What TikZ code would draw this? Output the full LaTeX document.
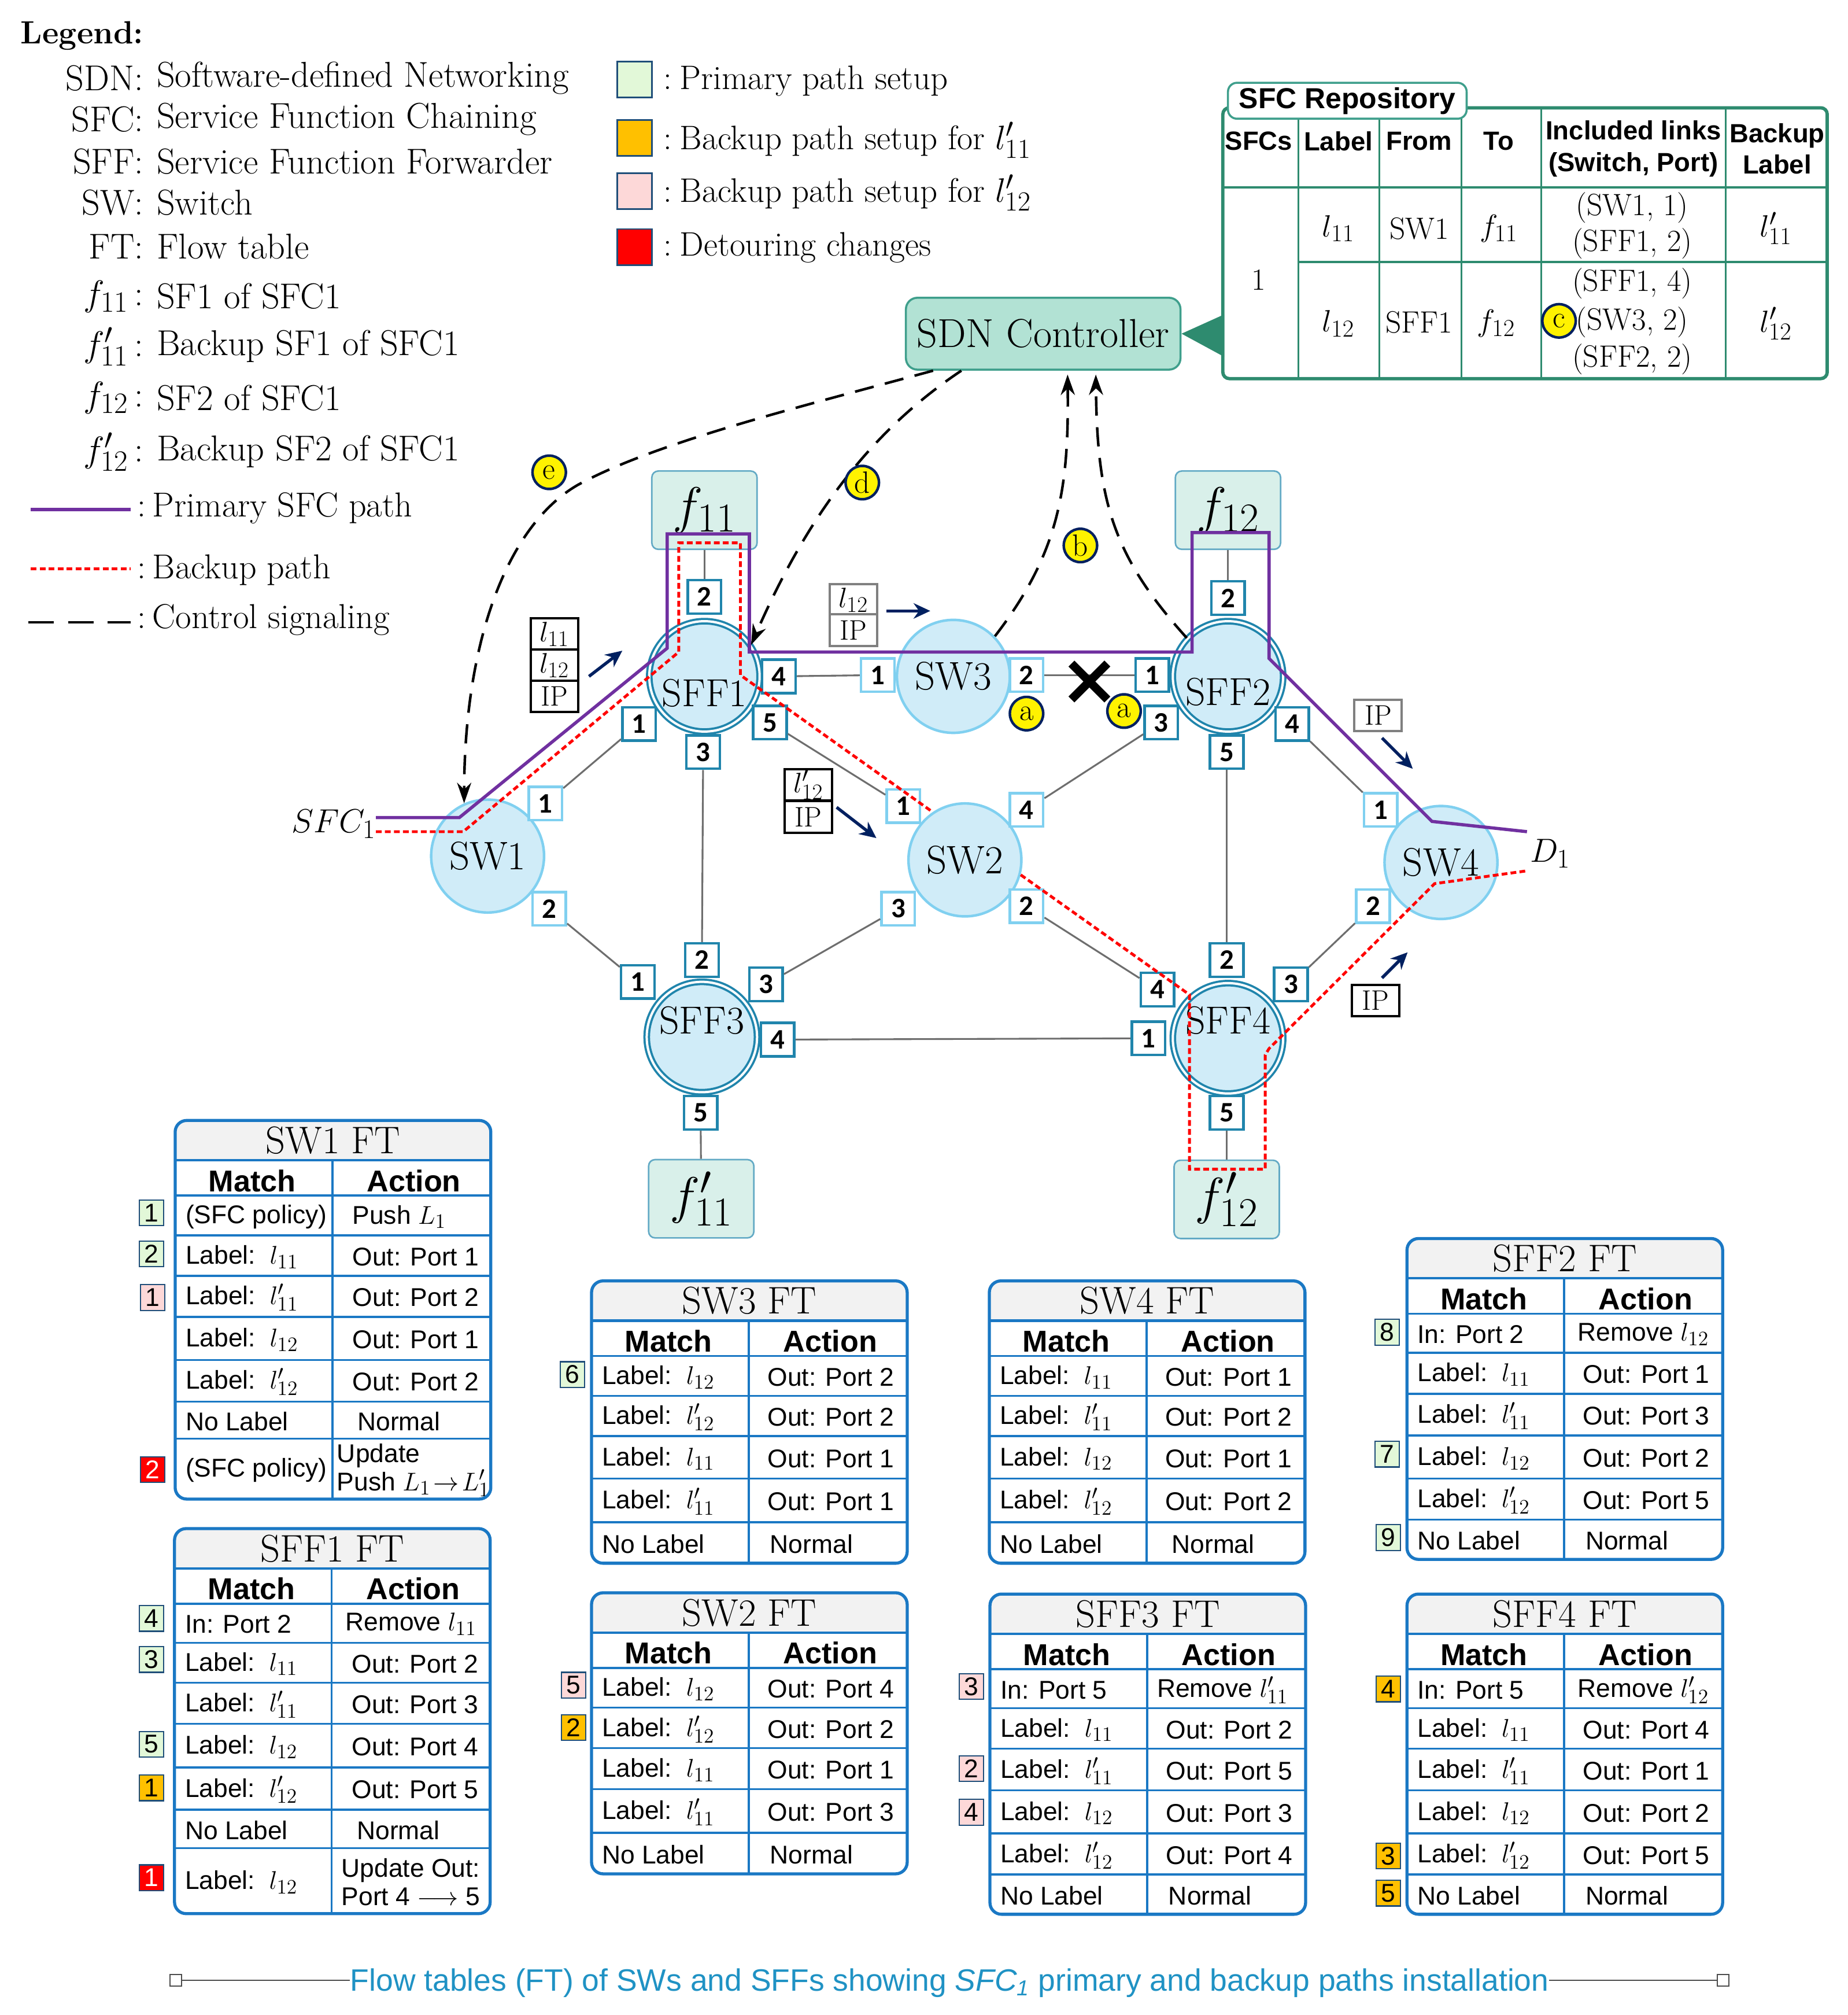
\documentclass[tikz,border=0pt]{standalone}
\usepackage{fix-cm}
\usepackage{fontspec}
\setsansfont{Liberation Sans}
\newfontfamily\portfont{Carlito}
\usetikzlibrary{arrows.meta}
\DeclareMathSizes{20}{20}{16}{12}
\DeclareMathSizes{22}{22}{17.5}{13}
\DeclareMathSizes{24}{24}{19}{14}
\DeclareMathSizes{26}{26}{21}{15}
\DeclareMathSizes{26.5}{26.5}{21.5}{15}
\DeclareMathSizes{28}{28}{23}{16}
\DeclareMathSizes{40}{40}{32}{22}
\newcommand{\fsz}[1]{\fontsize{#1}{#1}\selectfont}
\definecolor{swfill}{HTML}{D0ECF8}
\definecolor{swline}{HTML}{80D0F0}
\definecolor{sffline}{HTML}{2085AC}
\definecolor{funcfill}{HTML}{D9F0EA}
\definecolor{ctrlfill}{HTML}{B2E2D4}
\definecolor{ctrlline}{HTML}{3F9F8C}
\definecolor{repoline}{HTML}{2E8B6F}
\definecolor{linkgray}{HTML}{6E6E6E}
\definecolor{pathpurple}{HTML}{7030A0}
\definecolor{navyarrow}{HTML}{002060}
\definecolor{ftline}{HTML}{1A78C4}
\definecolor{fttitle}{HTML}{F2F2F2}
\definecolor{mkgreen}{HTML}{E2F8D8}
\definecolor{mkorange}{HTML}{FFC000}
\definecolor{mkpink}{HTML}{FDD8D8}
\definecolor{mkred}{HTML}{FF0000}
\definecolor{mkline}{HTML}{1F4E79}
\definecolor{capblue}{HTML}{1F92C4}
\tikzset{
  swnode/.style={circle,fill=swfill,draw=swline,line width=2pt,minimum size=88pt,inner sep=0pt,font=\fsz{31}},
  sffnode/.style={circle,fill=swfill,draw=sffline,double=white,double distance=1.8pt,line width=1.7pt,minimum size=86pt,inner sep=0pt},
  sfftext/.style={font=\fsz{30.5},inner sep=0pt},
  funcbox/.style={rectangle,rounded corners=5pt,fill=funcfill,draw=sffline!70,line width=1.2pt,minimum width=82pt,minimum height=61pt,inner sep=0pt,font=\fsz{40}},
  swport/.style={rectangle,fill=white,draw=swline,line width=2pt,minimum size=26pt,inner sep=0pt,font=\portfont\bfseries\fsz{22}},
  sffport/.style={swport,draw=sffline},
  link/.style={draw=linkgray,line width=1.4pt},
  primarypath/.style={draw=pathpurple,line width=2.5pt},
  backuppath/.style={draw=red,line width=2.2pt,dash pattern=on 4.5pt off 2.5pt},
  control/.style={draw=black,line width=2pt,dash pattern=on 15pt off 9pt},
  controlarrow/.style={control,-{Stealth[length=16pt,width=11pt]}},
  flowarrow/.style={draw=navyarrow,line width=2.4pt,-{Stealth[length=13pt,width=12pt]}},
  letter/.style={circle,fill=yellow,draw=navyarrow,line width=2pt,minimum size=26pt,inner sep=0pt,font=\fsz{24}},
  stackblack/.style={rectangle,fill=white,draw=black,line width=1.8pt,minimum width=37pt,minimum height=24.5pt,inner sep=0pt,font=\fsz{22}},
  stackgray/.style={stackblack,draw=gray},
  legkey/.style={anchor=east,inner sep=0pt,font=\fsz{28}},
  legval/.style={anchor=west,inner sep=0pt,font=\fsz{28}},
  legline/.style={anchor=west,inner sep=0pt,font=\fsz{27}},
  keyval/.style={anchor=west,inner sep=0pt,font=\fsz{26.5}},
  legbox/.style={rectangle,draw=mkline,line width=1.2pt,fill=#1,minimum width=27pt,minimum height=28pt,inner sep=0pt},
  stepbox/.style={rectangle,draw=mkline,line width=1pt,fill=#1,minimum width=19pt,minimum height=20pt,inner sep=0pt,font=\sffamily\fsz{20}},
  repohead/.style={inner sep=0pt,align=center,font=\sffamily\bfseries\fontsize{20.5}{24.5}\selectfont},
  repocell/.style={inner sep=0pt,font=\fsz{24}},
  ftcell/.style={anchor=west,inner sep=0pt,align=left,font=\sffamily\fontsize{20}{22}\selectfont},
  fthead/.style={inner sep=0pt,font=\sffamily\bfseries\fsz{23.5}},
}
% id, title, left, top, height, rows
\newcommand{\flowtable}[6]{%
\begin{scope}[shift={(#3,#4)}]
\begin{scope}
\clip[rounded corners=9pt] (0,0) rectangle (246,#5);
\fill[fttitle] (0,0) rectangle (246,31);
\draw[ftline,line width=2pt] (0,31) -- (246,31);
\draw[ftline,line width=1.6pt] (0,58.5) -- (246,58.5);
\draw[ftline,line width=1.6pt] (122.5,31) -- (122.5,#5);
\foreach \rowt/\rowb/\rowm/\rowx/\rowa [count=\rowi] in {#6} {
  \node[ftcell] (#1m\rowi) at (8,{(\rowt+\rowb)/2+1}) {\rowm};
  \node[ftcell] (#1a\rowi) at (\rowx,{(\rowt+\rowb)/2+1}) {\rowa};
  \draw[ftline,line width=1.6pt] (0,\rowb) -- (246,\rowb);
}
\end{scope}
\draw[ftline,line width=2.4pt,rounded corners=9pt] (0,0) rectangle (246,#5);
\node[inner sep=0pt,font=\fsz{30}] (#1t) at (123,15.5) {#2};
\node[fthead] (#1hm) at (60,47) {Match};
\node[fthead] (#1ha) at (186,47) {Action};
\end{scope}}
\begin{document}
\begin{tikzpicture}[x=1pt,y=-1pt]
\useasboundingbox (0,0) rectangle (1440,1570);
% Legend, left column
\node[anchor=west,inner sep=0pt,font=\bfseries\fsz{25}] (legtitle) at (16,28) {Legend:};
\foreach \lgk/\lgv/\lgy [count=\lgi] in {SDN:/Software-defined Networking/61,SFC:/Service Function Chaining/93,SFF:/Service Function Forwarder/126,SW:/Switch/158,FT:/Flow table/192,$f_{11}$\,:/SF1 of SFC1/231,$f'_{11}$\,:/Backup SF1 of SFC1/270,$f_{12}$\,:/SF2 of SFC1/310,$f'_{12}$\,:/Backup SF2 of SFC1/352} {
  \node[legkey] (legk\lgi) at (112,\lgy) {\lgk};
  \node[legval] (legv\lgi) at (122,\lgy) {\lgv};
}
\node[legline] (legprimary) at (107,396) {:\hspace{5pt}Primary SFC path};
\node[legline] (legbackup) at (107,444) {:\hspace{5pt}Backup path};
\node[legline] (legcontrol) at (107,483) {:\hspace{5pt}Control signaling};
\coordinate (primarystart) at (24,397);
\coordinate (backupstart) at (24,443);
\coordinate (controlstart) at (22,485);
\draw[primarypath] (primarystart) -- ([xshift=-5pt]legprimary.west |- primarystart);
\draw[backuppath] (backupstart) -- ([xshift=-5pt]legbackup.west |- backupstart);
\draw[control,dash pattern=on 20pt off 11pt] (controlstart) -- ([xshift=-5pt]legcontrol.west |- controlstart);
% Legend, colour keys
\node[legbox=mkgreen] (keya) at (494.5,62) {};
\node[legbox=mkorange] (keyb) at (494.5,107.5) {};
\node[legbox=mkpink] (keyc) at (494.5,149) {};
\node[legbox=mkred] (keyd) at (494.5,192.5) {};
\node[keyval] (keyat) at (517,63) {:\hspace{6pt}Primary path setup};
\node[keyval] (keybt) at (517,109) {:\hspace{6pt}Backup path setup for $l'_{11}$};
\node[keyval] (keyct) at (517,150) {:\hspace{6pt}Backup path setup for $l'_{12}$};
\node[keyval] (keydt) at (517,193) {:\hspace{6pt}Detouring changes};
% SDN controller and repository
\node[rectangle,rounded corners=9pt,fill=ctrlfill,draw=ctrlline,line width=1.6pt,minimum width=214pt,minimum height=56pt,inner sep=0pt,font=\fsz{31.5}] (sdn) at (813,260) {SDN Controller};
\fill[repoline] (sdn.east) -- (954,245) -- (954,278) -- cycle;
\draw[repoline,line width=2.6pt,rounded corners=5pt] (953,84) rectangle (1424,295);
\draw[repoline,line width=1.8pt] (953,146) -- (1424,146);
\draw[repoline,line width=1.8pt] (1012,204) -- (1424,204);
\foreach \colx in {1012,1075,1139,1201,1345} \draw[repoline,line width=1.4pt] (\colx,84) -- (\colx,295);
\node[rectangle,rounded corners=7pt,fill=white,draw=ctrlline,line width=1.6pt,minimum width=186pt,minimum height=28pt,inner sep=0pt,font=\sffamily\bfseries\fsz{22.5}] (repotitle) at (1050,78.5) {SFC Repository};
\foreach \rx/\ry/\rt [count=\ri] in {981/110/SFCs,1043/110/Label,1106/110/From,1168/110/To,1273/116/{Included links\\(Switch, Port)},1385/116/{Backup\\Label}} \node[repohead] (rh\ri) at (\rx,\ry) {\rt};
\foreach \rx/\ry/\rt [count=\ri] in {981/218/1,1043/178/$l_{11}$,1106/178/SW1,1168/178/$f_{11}$,1272/162/{(SW1, 1)},1272/190/{(SFF1, 2)},1384/178/$l'_{11}$,1043/252/$l_{12}$,1106/251/SFF1,1166/252/$f_{12}$,1272/221/{(SFF1, 4)},1272/251/{(SW3, 2)},1272/280/{(SFF2, 2)},1384/252/$l'_{12}$} \node[repocell] (rc\ri) at (\rx,\ry) {\rt};
% Nodes of the network
\node[swnode] (sw1) at (380,667) {SW1};
\node[swnode] (sw2) at (752,670) {SW2};
\node[swnode] (sw3) at (743,527) {SW3};
\node[swnode] (sw4) at (1123,672) {SW4};
\node[sffnode,label={[sfftext,yshift=-13pt]center:SFF1}] (sff1) at (549,527) {};
\node[sffnode,label={[sfftext,yshift=-12pt]center:SFF2}] (sff2) at (957,527) {};
\node[sffnode,label={[sfftext,yshift=13pt]center:SFF3}] (sff3) at (547,808) {};
\node[sffnode,label={[sfftext,yshift=14pt]center:SFF4}] (sff4) at (957,809) {};
\node[funcbox] (f11) at (549,397.5) {\raisebox{5pt}{$f_{11}$}};
\node[funcbox] (f12) at (957,397.5) {\raisebox{5pt}{$f_{12}$}};
\node[funcbox] (fb11) at (546.5,934) {\raisebox{2pt}{$f'_{11}$}};
\node[funcbox] (fb12) at (956,934.5) {\raisebox{2pt}{$f'_{12}$}};
% Ports
\foreach \pn/\px/\py/\pt in {swa1/425/626/1,swa2/428/708/2,swb1/704/628/1,swb2/800/706/2,swb3/700/708/3,swb4/800/631/4,swc1/684/526/1,swc2/800/526/2,swd1/1076/631/1,swd2/1070/706/2}
  \node[swport] (\pn) at (\px,\py) {\pt};
\foreach \pn/\px/\py/\pt in {sfa1/498/564/1,sfa2/549/465/2,sfa3/548/586/3,sfa4/607/527/4,sfa5/600/563/5,sfb1/898/526/1,sfb2/957/466/2,sfb3/905/563/3,sfb4/1007/564/4,sfb5/956/586/5,sfc1/497/765/1,sfc2/547/748/2,sfc3/597/767/3,sfc4/606/810/4,sfc5/546/867/5,sfd1/895/809/1,sfd2/956/748/2,sfd3/1006/767/3,sfd4/902/771/4,sfd5/956/867/5}
  \node[sffport] (\pn) at (\px,\py) {\pt};
% Links
\foreach \la/\lb in {swa1/sfa1,swa2/sfc1,sfa3/sfc2,sfa5/swb1,sfa4/swc1,swc2/sfb1,sfb3/swb4,sfb5/sfd2,sfb4/swd1,swb2/sfd4,swb3/sfc3,sfc4/sfd1,swd2/sfd3,f11/sfa2,f12/sfb2,fb11/sfc5,fb12/sfd5}
  \draw[link] (\la) -- (\lb);
% Link failure
\coordinate (crossc) at (849,531);
\draw[black,line width=6.5pt] ([shift={(-14pt,-14pt)}]crossc) -- ([shift={(14pt,14pt)}]crossc);
\draw[black,line width=6.5pt] ([shift={(-14pt,14pt)}]crossc) -- ([shift={(14pt,-14pt)}]crossc);
% Primary and backup paths
\node[inner sep=0pt,font=\fsz{26}] (sfcin) at (260,642) {$SFC_1$};
\node[inner sep=0pt,font=\fsz{26}] (dst) at (1208,665) {$D_1$};
\coordinate (pstart) at (293,637);
\coordinate (pend) at (1190,648);
\coordinate (bstart) at (293,648);
\coordinate (bend) at (1190,678.5);
\draw[primarypath] (pstart) -- (358,637) -- (520,505) -- (520,416) -- (584,416) -- (584,508) -- (929,508) -- (929,415) -- (989,415) -- (989,513) -- (1116,640) -- (pend);
\draw[backuppath] (bstart) -- (361,648) -- (529,508) -- (529,423) -- (577,423) -- (577,526) -- (sw2.124);
\draw[backuppath] (sw2.-15) -- (927,775) -- (927,911) -- (986,911) -- (986,822) -- (989,817) -- (1118,688.5) -- (bend);
% Control signaling
\draw[controlarrow] ([xshift=22pt]sdn.south west) .. controls (620,318) and (510,345) .. (450,378) .. controls (395,410) and (362,500) .. (sw1.114);
\draw[controlarrow] ([xshift=44pt]sdn.south west) .. controls (680,335) and (630,400) .. (sff1.34);
\draw[controlarrow] (sw3.44) .. controls (826,430) and (833,380) .. ([xshift=19pt,yshift=-3pt]sdn.south);
\draw[controlarrow] (sff2.137) .. controls (867,433) and (855,390) .. ([xshift=41pt,yshift=-3pt]sdn.south);
\node[letter] (mke) at (428,368) {e};
\node[letter] (mkd) at (672,376) {d};
\node[letter] (mkb) at (842,425) {b};
\node[letter] (mkc) at (1215,250) {c};
\node[letter] (mka) at (800,556) {a};
\node[letter] (mkaa) at (876,554) {a};
% Packet labels
\node[stackblack] (pka) at (432,494) {$l_{11}$};
\node[stackblack] (pkb) at (432,518.5) {$l_{12}$};
\node[stackblack] (pkc) at (432,542.5) {IP};
\node[stackgray] (pkd) at (665,467.5) {$l_{12}$};
\node[stackgray] (pke) at (665,491) {IP};
\node[stackblack] (pkf) at (630,611.5) {$l'_{12}$};
\node[stackblack] (pkg) at (630,636.5) {IP};
\node[stackgray] (pkh) at (1074,557.5) {IP};
\node[stackblack] (pki) at (1072,779.5) {IP};
\coordinate (arra) at (459,527);
\coordinate (arrb) at (485,507);
\coordinate (arrc) at (691,476);
\coordinate (arrd) at (725,476);
\coordinate (arre) at (652,629);
\coordinate (arrf) at (683,653);
\coordinate (arrg) at (1077,575);
\coordinate (arrh) at (1101,599);
\coordinate (arri) at (1077,762);
\coordinate (arrj) at (1097,742);
\foreach \aa/\ab in {arra/arrb,arrc/arrd,arre/arrf,arrg/arrh,arri/arrj}
  \draw[flowarrow] (\aa) -- (\ab);
% Flow tables
\flowtable{tsw1}{SW1 FT}{136.5}{873}{295}{58.6/89.6/{(SFC policy)}/138/Push $L_1$,
  89.6/121/Label:\ \ $l_{11}$/138/Out: Port 1,
  121/153/Label:\ \ $l'_{11}$/138/Out: Port 2,
  153/186.6/Label:\ \ $l_{12}$/138/Out: Port 1,
  186.6/219/Label:\ \ $l'_{12}$/138/Out: Port 2,
  219/248/No Label/142/Normal,
  248/295/{(SFC policy)}/126/{Update\\Push $L_1\!\rightarrow\!L'_1$}}
\flowtable{tsf1}{SFF1 FT}{136}{1191}{300}{58/89/In: Port 2/133/Remove $l_{11}$,
  89/120/Label:\ \ $l_{11}$/138/Out: Port 2,
  120/152/Label:\ \ $l'_{11}$/138/Out: Port 3,
  152/186/Label:\ \ $l_{12}$/138/Out: Port 4,
  186/219/Label:\ \ $l'_{12}$/138/Out: Port 5,
  219/249/No Label/142/Normal,
  249/300/Label:\ \ $l_{12}$/130/{Update Out:\\Port 4 $\longrightarrow$ 5}}
\flowtable{tsw3}{SW3 FT}{461}{998}{220}{58.5/89.5/Label:\ \ $l_{12}$/137/Out: Port 2,
  89.5/121/Label:\ \ $l'_{12}$/137/Out: Port 2,
  121/154/Label:\ \ $l_{11}$/137/Out: Port 1,
  154/188/Label:\ \ $l'_{11}$/137/Out: Port 1,
  188/220/No Label/139/Normal}
\flowtable{tsw2}{SW2 FT}{461}{1241}{219}{58.5/89.5/Label:\ \ $l_{12}$/137/Out: Port 4,
  89.5/121/Label:\ \ $l'_{12}$/137/Out: Port 2,
  121/153/Label:\ \ $l_{11}$/137/Out: Port 1,
  153/187/Label:\ \ $l'_{11}$/137/Out: Port 3,
  187/219/No Label/139/Normal}
\flowtable{tsw4}{SW4 FT}{771}{998}{220}{58.5/89.5/Label:\ \ $l_{11}$/137/Out: Port 1,
  89.5/121/Label:\ \ $l'_{11}$/137/Out: Port 2,
  121/154/Label:\ \ $l_{12}$/137/Out: Port 1,
  154/188/Label:\ \ $l'_{12}$/137/Out: Port 2,
  188/220/No Label/142/Normal}
\flowtable{tsf3}{SFF3 FT}{771.5}{1242}{249.5}{58.5/89/In: Port 5/130/Remove $l'_{11}$,
  89/120.5/Label:\ \ $l_{11}$/137/Out: Port 2,
  120.5/153/Label:\ \ $l'_{11}$/137/Out: Port 5,
  153/186.5/Label:\ \ $l_{12}$/137/Out: Port 3,
  186.5/218.5/Label:\ \ $l'_{12}$/137/Out: Port 4,
  218.5/249.5/No Label/139/Normal}
\flowtable{tsf2}{SFF2 FT}{1096.5}{965}{250}{58.5/89/In: Port 2/133/Remove $l_{12}$,
  89/121/Label:\ \ $l_{11}$/137/Out: Port 1,
  121/153.5/Label:\ \ $l'_{11}$/137/Out: Port 3,
  153.5/187/Label:\ \ $l_{12}$/137/Out: Port 2,
  187/219/Label:\ \ $l'_{12}$/137/Out: Port 5,
  219/250/No Label/139/Normal}
\flowtable{tsf4}{SFF4 FT}{1096.5}{1242}{249.5}{58.5/89/In: Port 5/133/Remove $l'_{12}$,
  89/120.5/Label:\ \ $l_{11}$/137/Out: Port 4,
  120.5/153/Label:\ \ $l'_{11}$/137/Out: Port 1,
  153/186.5/Label:\ \ $l_{12}$/137/Out: Port 2,
  186.5/218.5/Label:\ \ $l'_{12}$/137/Out: Port 5,
  218.5/249.5/No Label/139/Normal}
% Step markers
\foreach \sn/\sx/\sy/\sc/\st in {sa/118/945/mkgreen/1,sb/118/977/mkgreen/2,sc/119/1011/mkpink/1,sd/118/1261/mkgreen/4,se/118/1293/mkgreen/3,sf/118/1359/mkgreen/5,sg/118/1393/mkorange/1,sh/446/1071/mkgreen/6,si/447/1313/mkpink/5,sj/447/1346/mkorange/2,sk/757/1314/mkpink/3,sl/757/1378/mkpink/2,sm/757/1412/mkpink/4,sn/1081/1038/mkgreen/8,so/1081/1133/mkgreen/7,sp/1082/1198/mkgreen/9,sq/1082/1316/mkorange/4,sr/1082/1446/mkorange/3,ss/1082/1475/mkorange/5}
  \node[stepbox=\sc] (\sn) at (\sx,\sy) {\st};
\node[stepbox=mkred,text=white] (st) at (119,1145) {2};
\node[stepbox=mkred,text=white] (su) at (118,1463) {1};
% Caption
\node[inner sep=0pt,text=capblue,font=\sffamily\fsz{24.1}] (caption) at (740,1545) {Flow tables (FT) of SWs and SFFs showing {\itshape SFC\textsubscript{1}} primary and backup paths installation};
\node[rectangle,draw=black!70,fill=white,line width=1pt,minimum size=9pt,inner sep=0pt] (capl) at (137,1543) {};
\node[rectangle,draw=black!70,fill=white,line width=1pt,minimum size=9pt,inner sep=0pt] (capr) at (1343,1543) {};
\draw[black!70,line width=1pt] (capl) -- (capl -| caption.west);
\draw[black!70,line width=1pt] (capr -| caption.east) -- (capr);
\end{tikzpicture}
\end{document}
